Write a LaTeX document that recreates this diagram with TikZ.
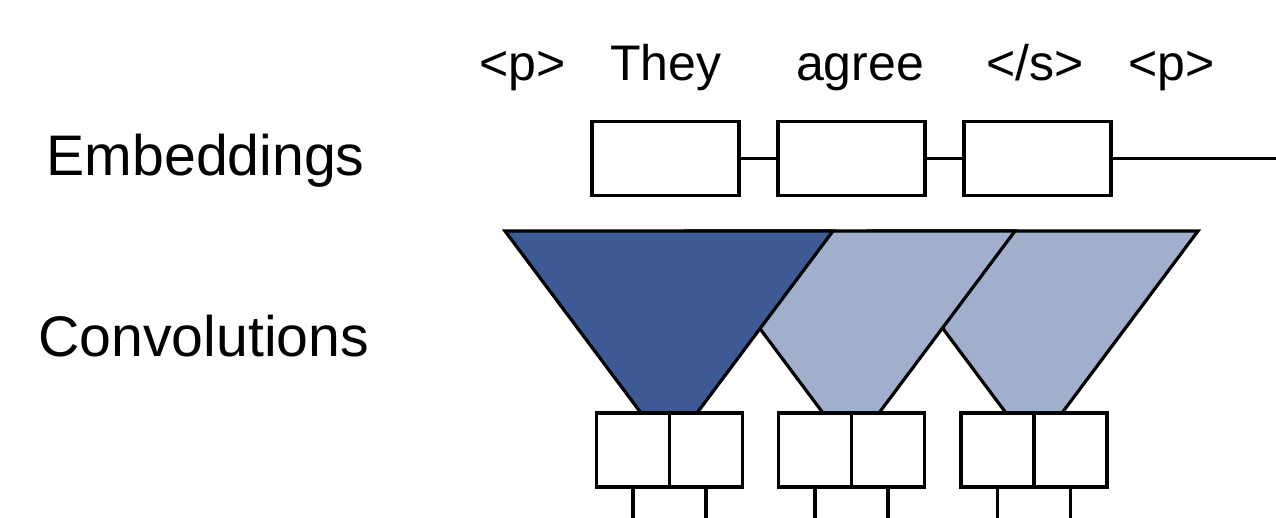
\documentclass[tikz,border=0pt]{standalone}
\usepackage{fontspec}
\setmainfont{Liberation Sans}
\definecolor{convdark}{RGB}{61,90,148}
\definecolor{convlight}{RGB}{160,175,203}
\begin{document}
\begin{tikzpicture}[x=0.5pt,y=-0.5pt,
  line width=1.6pt,
  ebox/.style={draw,fill=white,rectangle,minimum width=73.5pt,minimum height=37pt,inner sep=0pt,line width=1.6pt},
  cbox/.style={draw,fill=white,rectangle,minimum width=36.5pt,minimum height=37pt,inner sep=0pt,line width=1.6pt},
  rowlabel/.style={anchor=base west,inner sep=0pt,font=\fontsize{28.6}{34}\selectfont},
  word/.style={anchor=base,inner sep=0pt,font=\fontsize{25}{30}\selectfont},
  filt/.style={draw,line join=miter,line width=1.6pt}]
\useasboundingbox (0,0) rectangle (1276,518);

% row labels
\node[rowlabel] (lemb) at (45,175.7) {Embeddings};
\node[rowlabel] (lconv) at (36.7,356.7) {Convolutions};

% words
\node[word] (w1) at (522.5,80.7) {<p>};
\node[word] (w2) at (666,80.7) {They};
\node[word] (w3) at (860,80.7) {agree};
\node[word] (w4) at (1035,80.7) {</s>};
\node[word] (w5) at (1171.5,80.7) {<p>};

% embeddings
\node[ebox] (e1) at (665.5,158.5) {};
\node[ebox] (e2) at (851.5,158.5) {};
\node[ebox] (e3) at (1037.5,158.5) {};
\coordinate (eend) at (1280,158.5);
\draw (e1.east) -- (e2.west);
\draw (e2.east) -- (e3.west);
\draw (e3.east) -- (eend);

% convolution filters (back to front)
\path[filt,fill=convlight] (870,231) -- (1198,231) -- (1062,413) -- (1006,413) -- cycle;
\path[filt,fill=convlight] (687,231) -- (1015,231) -- (879,413) -- (823,413) -- cycle;
\path[filt,fill=convdark] (505,231) -- (833,231) -- (697,413) -- (641,413) -- cycle;

% convolution outputs
\node[cbox] (c1a) at (633,450) {};
\node[cbox] (c1b) at (706,450) {};
\node[cbox] (c2a) at (815,450) {};
\node[cbox] (c2b) at (888,450) {};
\node[cbox] (c3a) at (997.5,450) {};
\node[cbox] (c3b) at (1070.5,450) {};
\coordinate (bot) at (0,525);
\foreach \n in {c1a,c1b,c2a,c2b,c3a,c3b}{
  \draw (\n.south) -- (\n.south |- bot);
}
\end{tikzpicture}
\end{document}
